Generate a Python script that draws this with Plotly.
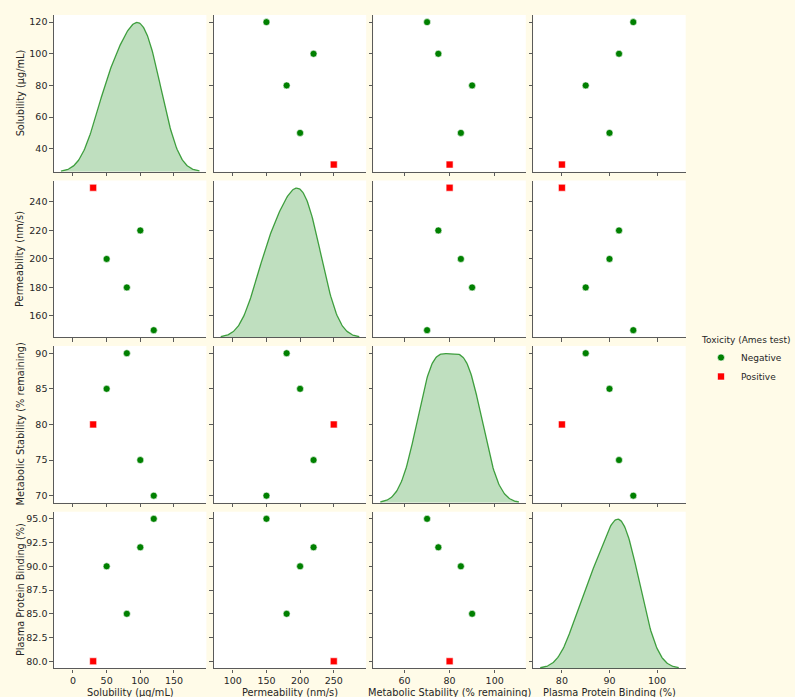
import numpy as np
import plotly.graph_objects as go

# ---- data ----
variables = ["Solubility (µg/mL)", "Permeability (nm/s)",
             "Metabolic Stability (% remaining)", "Plasma Protein Binding (%)"]
solubility = [120, 100, 80, 50, 30]
permeability = [150, 220, 180, 200, 250]
metabolic_stability = [70, 75, 90, 85, 80]
ppb = [95, 92, 85, 90, 80]
toxicity = ["Negative", "Negative", "Negative", "Negative", "Positive"]
hue_order = ["Negative", "Positive"]
legend_title = "Toxicity (Ames test)"

tickvals = [
    [0, 50, 100, 150],
    [100, 150, 200, 250],
    [60, 80, 100],
    [80, 90, 100],
]
row_tickvals = [
    [40, 60, 80, 100, 120],
    [160, 180, 200, 220, 240],
    [70, 75, 80, 85, 90],
    [80.0, 82.5, 85.0, 87.5, 90.0, 92.5, 95.0],
]
row_ticktext = [
    ["40", "60", "80", "100", "120"],
    ["160", "180", "200", "220", "240"],
    ["70", "75", "80", "85", "90"],
    ["80.0", "82.5", "85.0", "87.5", "90.0", "92.5", "95.0"],
]

# ---- styling ----
W, H = 795, 697
BG = "#fffbe8"
SPINE = "#5a5a5a"
TXT = "#262626"
FONT = "DejaVu Sans"
colors = {"Negative": "#008000", "Positive": "#ff0000"}
symbols = {"Negative": "circle", "Positive": "square"}

data = [solubility, permeability, metabolic_stability, ppb]
n = 4

col_left = [54, 213.8, 373.4, 533.3]
col_w = 152.4
row_top = [15, 180.6, 346.1, 511.7]
row_h = 156.7


def xdom(j):
    return [col_left[j] / W, (col_left[j] + col_w) / W]


def ydom(i):
    return [1 - (row_top[i] + row_h) / H, 1 - row_top[i] / H]


def kde(vals):
    v = np.asarray(vals, float)
    bw = v.std(ddof=1) * len(v) ** (-1 / 5)
    grid = np.linspace(v.min() - 3 * bw, v.max() + 3 * bw, 200)
    dens = np.exp(-0.5 * ((grid[:, None] - v[None, :]) / bw) ** 2).sum(1)
    dens /= (len(v) * bw * np.sqrt(2 * np.pi))
    return grid, dens


def axname(prefix, idx):
    return prefix if idx == 1 else f"{prefix}{idx}"


fig = go.Figure()
layout = {}
shapes = []

kdes = []
for k in range(n):
    neg = [data[k][t] for t in range(len(toxicity)) if toxicity[t] == "Negative"]
    kdes.append(kde(neg))

# x ranges from kde extent (+5% margins), y ranges from data (+5%)
xr = []
for k in range(n):
    g = kdes[k][0]
    span = g[-1] - g[0]
    xr.append([g[0] - 0.05 * span, g[-1] + 0.05 * span])
yr = []
for k in range(n):
    lo, hi = min(data[k]), max(data[k])
    span = hi - lo
    yr.append([lo - 0.05 * span, hi + 0.05 * span])

axis_common = dict(
    showgrid=False, zeroline=False, showline=True, linecolor=SPINE, linewidth=1.3,
    ticks="outside", ticklen=3.5, tickwidth=1, tickcolor=SPINE,
    tickfont=dict(family=FONT, size=9.5, color=TXT), mirror=False,
)

legend_shown = set()
for i in range(n):
    for j in range(n):
        idx = i * n + j + 1
        xa = axname("x", idx)
        ya = axname("y", idx)
        layout[axname("xaxis", idx)] = dict(
            axis_common, domain=xdom(j), anchor=ya, range=xr[j],
            tickvals=tickvals[j], showticklabels=(i == n - 1))
        layout[axname("yaxis", idx)] = dict(
            axis_common, domain=ydom(i), anchor=xa, range=yr[i],
            tickvals=row_tickvals[i], ticktext=row_ticktext[i],
            showticklabels=(j == 0))
        shapes.append(dict(
            type="rect", xref="paper", yref="paper",
            x0=xdom(j)[0], x1=xdom(j)[1], y0=ydom(i)[0], y1=ydom(i)[1],
            fillcolor="white", line=dict(width=0), layer="below"))
        if i == j:
            # register the diagonal cell's own axes (ticks/spines)
            fig.add_trace(go.Scatter(
                x=[None], y=[None], xaxis=xa, yaxis=ya, mode="markers",
                showlegend=False, hoverinfo="skip"))
            oid = 16 + i + 1
            layout[f"xaxis{oid}"] = dict(
                domain=xdom(j), anchor=f"y{oid}", range=xr[j], visible=False,
                showgrid=False, zeroline=False)
            layout[f"yaxis{oid}"] = dict(
                domain=ydom(i), anchor=f"x{oid}", visible=False,
                range=[0, kdes[i][1].max() * 1.05], showgrid=False, zeroline=False)
            fig.add_trace(go.Scatter(
                x=kdes[i][0], y=kdes[i][1], xaxis=f"x{oid}", yaxis=f"y{oid}",
                mode="lines", fill="tozeroy",
                line=dict(color="rgba(0,128,0,0.72)", width=1.3),
                fillcolor="rgba(0,128,0,0.25)", showlegend=False, hoverinfo="skip"))
        else:
            for h in hue_order:
                xs = [data[j][t] for t in range(len(toxicity)) if toxicity[t] == h]
                ys = [data[i][t] for t in range(len(toxicity)) if toxicity[t] == h]
                fig.add_trace(go.Scatter(
                    x=xs, y=ys, xaxis=xa, yaxis=ya, mode="markers", name=h,
                    legendgroup=h, showlegend=(h not in legend_shown),
                    marker=dict(color=colors[h], symbol=symbols[h], size=7,
                                line=dict(color="white", width=0.6))))
                legend_shown.add(h)

annotations = []
for i in range(n):
    yc = 1 - (row_top[i] + row_h / 2) / H
    annotations.append(dict(
        text=variables[i], xref="paper", yref="paper", x=20 / W, y=yc,
        textangle=-90, showarrow=False, xanchor="center", yanchor="middle",
        font=dict(family=FONT, size=9.8, color=TXT)))
for j in range(n):
    xc = (col_left[j] + col_w / 2) / W
    annotations.append(dict(
        text=variables[j], xref="paper", yref="paper", x=xc, y=1 - 685 / H,
        showarrow=False, xanchor="center", yanchor="top",
        font=dict(family=FONT, size=9.8, color=TXT)))
annotations.append(dict(
    text=legend_title, xref="paper", yref="paper", x=699 / W, y=1 - 340 / H,
    showarrow=False, xanchor="left", yanchor="middle",
    font=dict(family=FONT, size=9.0, color=TXT)))

fig.update_layout(
    width=W, height=H, margin=dict(l=0, r=0, t=0, b=0),
    paper_bgcolor=BG, plot_bgcolor="rgba(0,0,0,0)",
    font=dict(family=FONT, size=9.5, color=TXT),
    annotations=annotations, shapes=shapes,
    legend=dict(
        x=701 / W, y=1 - 343 / H, xanchor="left", yanchor="top",
        bgcolor="rgba(0,0,0,0)", font=dict(family=FONT, size=9.0, color=TXT),
        tracegroupgap=0, itemsizing="trace", itemwidth=30),
    **layout,
)

fig.write_html(
    "out.html",
    config={"displayModeBar": False},
    post_script="document.body.style.margin='0';"
                "document.body.style.background='" + BG + "';",
)
